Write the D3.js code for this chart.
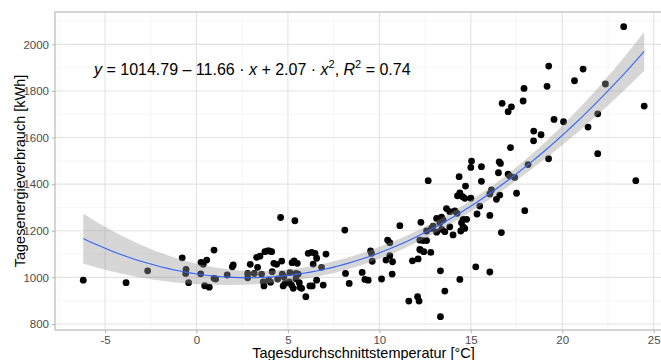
<!DOCTYPE html>
<html>
<head>
<meta charset="utf-8">
<script src="https://cdn.jsdelivr.net/npm/d3@7"></script>
<style>
  body { margin: 0; background: #fff; }
  svg { display: block; font-family: "Liberation Sans", Arial, sans-serif; }
</style>
</head>
<body>
<svg id="chart" width="661" height="360"></svg>
<script>
// daily mean temperature [°C]
const temperature = [
  -6.19, -3.85, -2.67, -0.78, -0.57, -0.59, -0.43, 0.25, 0.37, 0.56, 0.96, 0.23, 0.45, 0.70, 0.96, 1.05, 1.68, 1.96, 2.01, 2.94, 2.80, 2.80, 3.16, 3.29, 3.34,
  3.47, 3.74, 3.89, 3.98, 4.11,
  3.56, 3.65, 3.69, 3.95, 4.05, 4.14, 4.23, 4.38, 4.44,
  4.60, 5.38,
  4.66, 4.69, 4.78, 4.84, 4.74, 5.07, 5.20, 5.29,
  5.23, 5.34, 5.51, 5.11, 5.44, 5.56, 5.62, 5.66, 5.75, 5.44, 5.98,
  6.11, 6.30, 6.48, 6.38, 6.57, 7.08, 6.84, 6.20, 6.33, 6.57, 6.93,
  8.11, 8.15, 8.35, 9.06, 9.21, 9.39, 9.52, 9.57, 9.61, 10.12,
  10.36, 10.45, 10.57, 10.57, 10.72, 10.70, 11.12,
  11.61, 12.09, 12.17, 11.81, 12.12, 12.25, 12.27, 12.21, 12.39, 12.58, 12.21, 12.43, 12.81,
  12.67, 12.94, 12.85, 13.13, 13.40, 13.49, 13.31, 13.67, 13.85, 14.13, 14.25, 13.13, 13.40, 13.58, 13.85, 14.03, 12.58,
  13.34, 14.40, 15.27, 16.04, 13.58, 13.34,
  14.58, 14.77, 14.49, 14.58, 14.67, 14.45, 14.36, 14.71, 14.40, 14.27, 14.55, 14.67, 15.00,
  15.04, 15.00, 15.58, 15.58, 16.13, 16.04, 16.58, 16.40, 15.49, 15.34, 16.04, 16.67, 17.50, 17.95,
  16.71, 17.22, 17.04, 17.17, 16.55, 16.62, 16.51, 17.04, 17.13, 17.40, 18.13, 17.86, 17.91,
  19.26, 21.14, 20.67, 19.17, 22.36, 19.55, 20.07, 21.94, 21.41, 18.44, 18.84, 18.43, 19.25, 21.94,
  23.36, 24.48, 24.02
];
// daily energy use [kWh]
const energy = [
  988, 977, 1028, 1084, 1034, 1017, 977, 1064, 1056, 1074, 1117, 1015, 964, 958, 996, 993, 1010, 1045, 1053, 1056, 1017, 998, 1017, 1086, 1043,
  1091, 1110, 1114, 1114, 1110,
  1014, 981, 963, 988, 979, 1024, 1060, 1056, 993,
  1257, 1243,
  1070, 1014, 1003, 974, 963, 981, 967, 953,
  1063, 1071, 1060, 1020, 1017, 1014, 977, 957, 953, 994, 917,
  1103, 1107, 1103, 1057, 1082, 1100, 1043, 963, 963, 988, 967,
  1203, 1017, 974, 1021, 991, 988, 1113, 1103, 1069, 993,
  1074, 1160, 1149, 1093, 1067, 1014, 1222,
  898, 917, 898, 1071, 1079, 1117, 1236, 1160, 1158, 1158, 1120, 1110, 1107,
  1415, 1220, 1210, 1253, 1258, 1246, 1234, 1295, 1282, 1285, 1275, 1194, 1206, 1196, 1217, 1182, 1199,
  1028, 991, 1045, 1023, 941, 831,
  1249, 1249, 1234, 1217, 1210, 1199, 1432, 1392, 1363, 1350, 1346, 1339, 1340,
  1499, 1472, 1475, 1412, 1375, 1358, 1353, 1335, 1306, 1272, 1266, 1192, 1361, 1286,
  1747, 1732, 1711, 1557, 1496, 1489, 1449, 1443, 1435, 1429, 1484, 1757, 1811,
  1907, 1894, 1844, 1820, 1830, 1678, 1668, 1702, 1645, 1628, 1612, 1586, 1509, 1531,
  2076, 1735, 1415
];

// y = b0 + b1*x + b2*x^2
const coef = [1014.79, -11.66, 2.07];
const rSquared = 0.74;

const xTicks = [-5, 0, 5, 10, 15, 20, 25];
const yTicks = [800, 1000, 1200, 1400, 1600, 1800, 2000];
const xMinor = [-7.5, -2.5, 2.5, 7.5, 12.5, 17.5, 22.5];
const yMinor = [900, 1100, 1300, 1500, 1700, 1900, 2100];

const svg = d3.select('#chart');
const margin = { top: 12, left: 55, right: 672, bottom: 330 };

const x = d3.scaleLinear().domain([-7.735, 26.0]).range([margin.left, margin.right]);
const y = d3.scaleLinear().domain([774, 2139]).range([margin.bottom, margin.top]);

svg.append('defs').append('clipPath').attr('id', 'panel')
  .append('rect')
  .attr('x', margin.left).attr('y', margin.top)
  .attr('width', margin.right - margin.left).attr('height', margin.bottom - margin.top);

const panel = svg.append('g').attr('clip-path', 'url(#panel)');

// grid
panel.selectAll('.xminor').data(xMinor).join('line')
  .attr('x1', (d) => x(d)).attr('x2', (d) => x(d))
  .attr('y1', margin.top).attr('y2', margin.bottom)
  .attr('stroke', '#f0f0f0').attr('stroke-width', 0.6);
panel.selectAll('.yminor').data(yMinor).join('line')
  .attr('y1', (d) => y(d)).attr('y2', (d) => y(d))
  .attr('x1', margin.left).attr('x2', margin.right)
  .attr('stroke', '#f0f0f0').attr('stroke-width', 0.6);
panel.selectAll('.xmajor').data(xTicks).join('line')
  .attr('x1', (d) => x(d)).attr('x2', (d) => x(d))
  .attr('y1', margin.top).attr('y2', margin.bottom)
  .attr('stroke', '#e3e3e3').attr('stroke-width', 1.1);
panel.selectAll('.ymajor').data(yTicks).join('line')
  .attr('y1', (d) => y(d)).attr('y2', (d) => y(d))
  .attr('x1', margin.left).attr('x2', margin.right)
  .attr('stroke', '#e3e3e3').attr('stroke-width', 1.1);

// points
const pts = temperature.map((t, i) => ({ t, e: energy[i] }));
panel.selectAll('.dot').data(pts).join('circle')
  .attr('class', 'dot')
  .attr('cx', (d) => x(d.t))
  .attr('cy', (d) => y(d.e))
  .attr('r', 3.4)
  .attr('fill', '#000');

// confidence band of the quadratic fit (lm, 95%)
const fit = (t) => coef[0] + coef[1] * t + coef[2] * t * t;
const n = pts.length;
const XtX = [[0, 0, 0], [0, 0, 0], [0, 0, 0]];
let sse = 0;
pts.forEach((d) => {
  const row = [1, d.t, d.t * d.t];
  for (let a = 0; a < 3; a++) for (let b = 0; b < 3; b++) XtX[a][b] += row[a] * row[b];
  sse += (d.e - fit(d.t)) ** 2;
});
const sigma = Math.sqrt(sse / (n - 3));
function inv3(m) {
  const [[a, b, c], [d, e, f], [g, h, k]] = m;
  const A = e * k - f * h, B = -(d * k - f * g), C = d * h - e * g;
  const det = a * A + b * B + c * C;
  return [
    [A / det, -(b * k - c * h) / det, (b * f - c * e) / det],
    [B / det, (a * k - c * g) / det, -(a * f - c * d) / det],
    [C / det, -(a * h - b * g) / det, (a * e - b * d) / det]
  ];
}
const XtXi = inv3(XtX);
const tCrit = 1.973;
const [tMin, tMax] = d3.extent(temperature);
const grid = d3.range(80).map((i) => tMin + (i * (tMax - tMin)) / 79);
const band = grid.map((t) => {
  const v = [1, t, t * t];
  let q = 0;
  for (let a = 0; a < 3; a++) for (let b = 0; b < 3; b++) q += v[a] * XtXi[a][b] * v[b];
  const se = sigma * Math.sqrt(q);
  return { t, fit: fit(t), lo: fit(t) - tCrit * se, hi: fit(t) + tCrit * se };
});

panel.append('path').datum(band)
  .attr('d', d3.area().x((d) => x(d.t)).y0((d) => y(d.lo)).y1((d) => y(d.hi)))
  .attr('fill', '#999999').attr('fill-opacity', 0.4);
panel.append('path').datum(band)
  .attr('d', d3.line().x((d) => x(d.t)).y((d) => y(d.fit)))
  .attr('fill', 'none').attr('stroke', '#3366FF').attr('stroke-width', 1.1);

// panel border
svg.append('rect')
  .attr('x', margin.left).attr('y', margin.top)
  .attr('width', margin.right - margin.left).attr('height', margin.bottom - margin.top)
  .attr('fill', 'none').attr('stroke', '#b3b3b3').attr('stroke-width', 1.1);

// axes
const xAxis = svg.append('g').attr('transform', `translate(0,${margin.bottom})`)
  .call(d3.axisBottom(x).tickValues(xTicks).tickSize(3).tickPadding(3).tickFormat(d3.format('d')));
const yAxis = svg.append('g').attr('transform', `translate(${margin.left},0)`)
  .call(d3.axisLeft(y).tickValues(yTicks).tickSize(3).tickPadding(3).tickFormat(d3.format('d')));
[xAxis, yAxis].forEach((g) => {
  g.select('.domain').remove();
  g.selectAll('.tick line').attr('stroke', '#b3b3b3');
  g.selectAll('.tick text').attr('fill', '#4d4d4d').style('font-size', '11.5px')
    .style('font-family', '"Liberation Sans", Arial, sans-serif');
});
xAxis.selectAll('.tick text').text((d) => (d < 0 ? '-' + Math.abs(d) : d));

// axis titles
svg.append('text')
  .attr('x', (margin.left + margin.right) / 2).attr('y', 358)
  .attr('text-anchor', 'middle').style('font-size', '14.5px').attr('fill', '#000')
  .text('Tagesdurchschnittstemperatur [°C]');
svg.append('text')
  .attr('transform', `translate(25,${(margin.top + margin.bottom) / 2}) rotate(-90)`)
  .attr('text-anchor', 'middle').style('font-size', '14.5px').attr('fill', '#000')
  .text('Tagesenergieverbrauch [kWh]');

// equation label
const eq = svg.append('text').attr('x', 94).attr('y', 75).style('font-size', '16px').attr('fill', '#000');
const parts = [
  ['y', true], [' = ' + coef[0].toFixed(2) + ' \u2013 ' + Math.abs(coef[1]).toFixed(2) + ' \u00b7 ', false],
  ['x', true], [' + ' + coef[2].toFixed(2) + ' \u00b7 ', false], ['x', true], ['2', false, true],
  [',  ', false], ['R', true], ['2', false, true], [' = ' + rSquared.toFixed(2), false]
];
parts.forEach(([s, it, sup]) => {
  const ts = eq.append('tspan').text(s);
  if (it) ts.style('font-style', 'italic');
  if (sup) ts.attr('dy', -7).style('font-size', '11px');
  else if (eq.node().lastSup) ts.attr('dy', 7);
  eq.node().lastSup = !!sup;
});
</script>
</body>
</html>
